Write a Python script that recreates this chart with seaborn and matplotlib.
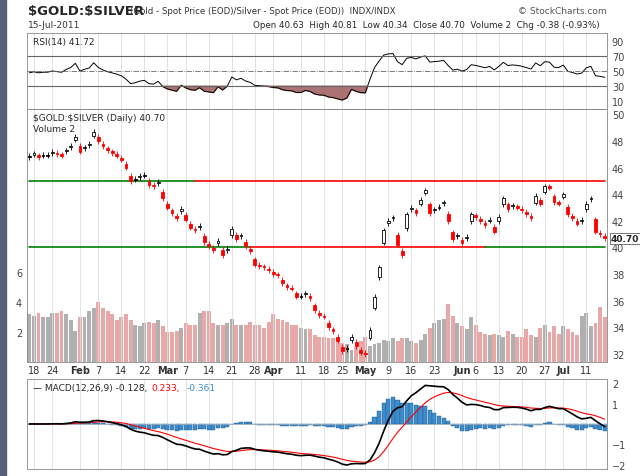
import numpy as np
import pandas as pd
import matplotlib
matplotlib.use("Agg")
import matplotlib.pyplot as plt
import seaborn as sns

sns.set_style("white")
plt.rcParams['font.family'] = ['DejaVu Sans']

closes = [46.8, 47.0, 46.8, 46.9, 46.9, 47.1, 47.0, 46.9, 47.3, 47.6, 48.3, 47.2, 47.5, 47.7, 48.7, 48.0,
          47.6, 47.3, 47.1, 46.9,
          46.6, 46.0, 45.0, 45.1, 45.3, 45.4, 44.7, 44.6, 44.9, 43.7, 43.0, 42.6, 42.2, 42.9,
          42.1, 41.5, 41.3, 41.6, 40.4, 40.1, 39.8, 40.5, 39.4, 39.9, 41.4, 40.6, 40.9, 40.1,
          39.7, 38.7, 38.6, 38.5, 38.3, 38.0, 37.9, 37.3, 37.0, 36.9, 36.3, 36.3, 36.5, 36.2,
          35.3, 34.9, 34.8, 34.0, 33.7, 33.0, 32.2, 32.4, 33.3, 32.6, 32.1, 32.0, 33.8, 36.3,
          38.5, 41.3, 42.0, 42.2, 40.2, 39.4, 42.5, 43.0, 42.6, 43.6, 44.3, 42.6, 42.8, 43.0,
          43.4, 42.0, 40.6, 40.9, 40.3, 40.8, 42.5, 42.3, 42.0, 41.7, 42.1, 41.2, 42.3, 43.7,
          42.9, 43.1, 43.0, 42.8, 42.5, 42.2, 43.9, 43.3, 44.6, 44.5, 43.4, 43.3, 44.0, 42.5,
          42.2, 41.8, 42.0, 43.3, 43.7, 41.2, 41.0, 40.7]
volume = [3.2, 3.1, 3.3, 3.0, 3.0, 3.3, 3.3, 3.4, 3.2, 2.8, 2.1, 3.0, 3.0, 3.4, 3.6, 4.0, 3.6, 3.4, 3.2,
          2.8, 3.0, 3.2,
          2.8, 2.5, 2.4, 2.6, 2.7, 2.6, 2.8, 2.4, 2.0, 2.0, 2.1, 2.3, 2.6, 2.5, 2.5, 3.3,
          3.4, 3.4, 2.6, 2.5, 2.5, 2.6, 2.9, 2.5, 2.5, 2.5, 2.7, 2.5, 2.5, 2.3, 2.7, 3.2,
          2.9, 2.8, 2.7, 2.5, 2.5, 2.3, 2.2, 2.2, 1.8, 1.7, 1.7, 1.6, 1.6, 1.4, 1.3, 1.2,
          0.8, 1.0, 1.4, 1.7, 1.1, 1.2, 1.3, 1.5, 1.4, 1.6, 1.4, 1.6, 1.6, 1.4, 1.3, 1.5,
          1.9, 2.3, 2.6, 2.8, 2.9, 3.9, 3.1, 2.6, 2.4, 2.2, 3.0, 2.5, 2.0, 1.9, 1.8, 1.9,
          1.8, 1.7, 2.1, 1.9, 1.7, 1.7, 2.2, 1.8, 1.7, 2.3, 2.5, 2.0, 2.4, 1.9, 2.4, 2.2,
          2.0, 1.8, 3.1, 3.3, 2.4, 2.6, 3.7, 3.0, 3.2, 2.4, 2.6, 2.5, 2.6]
holidays = ["2011-01-17", "2011-02-21", "2011-04-22", "2011-05-30", "2011-07-04"]
tick_dates = ["2011-01-18", "2011-01-24", "2011-02-01", "2011-02-07", "2011-02-14", "2011-02-22",
              "2011-03-01", "2011-03-07", "2011-03-14", "2011-03-21", "2011-03-28", "2011-04-01",
              "2011-04-11", "2011-04-18", "2011-04-25", "2011-05-02", "2011-05-09", "2011-05-16",
              "2011-05-23", "2011-06-01", "2011-06-06", "2011-06-13", "2011-06-20", "2011-06-27",
              "2011-07-01", "2011-07-11"]
tick_labels = ["18", "24", "Feb", "7", "14", "22", "Mar", "7", "14", "21", "28", "Apr", "11", "18",
               "25", "May", "9", "16", "23", "Jun", "6", "13", "20", "27", "Jul", "11"]

n = len(closes)
volume = (volume + [2.5] * n)[:n]
cbd = pd.offsets.CustomBusinessDay(holidays=holidays)
dates = pd.date_range(start="2010-12-01", end="2011-07-15", freq=cbd)[-n:]
df = pd.DataFrame({"close": closes, "volume": volume}, index=dates)
df["prev"] = df["close"].shift(1).fillna(df["close"].iloc[0] - 0.1)
df["open"] = df["close"] - 0.35 * (df["close"] - df["prev"]) + 0.05
x = np.arange(n)
tick_pos = [dates.searchsorted(pd.Timestamp(d)) for d in tick_dates]

# RSI(14), Wilder smoothing seeded with balanced averages
delta = df["close"].diff().fillna(0).values
au, ad = 0.3, 0.33
rsi = []
for d in delta:
    au = (au * 13 + max(d, 0)) / 14
    ad = (ad * 13 + max(-d, 0)) / 14
    rsi.append(100 - 100 / (1 + au / ad))
rsi = np.array(rsi)
# MACD
macd = df["close"].ewm(span=12).mean() - df["close"].ewm(span=26).mean()
signal = macd.ewm(span=9).mean()
hist = macd - signal

W, H = 640, 477
fig = plt.figure(figsize=(6.4, 4.77), dpi=100)
fig.patch.set_facecolor("white")
def box(l, t, r, b):
    return [l / W, 1 - b / H, (r - l) / W, (b - t) / H]

def style(ax):
    ax.set_xlim(-0.5, n - 0.5)
    ax.yaxis.tick_right()
    ax.tick_params(labelsize=7, length=0, colors="#444")
    for xp in tick_pos:
        ax.axvline(xp, color="#dddddd", lw=0.6, zorder=0)
    for s in ax.spines.values():
        s.set_color("#888")
        s.set_linewidth(0.6)
    ax.set_xticks([])

fig.text(28 / W, 1 - 12 / H, r"\$GOLD:\$SILVER", fontsize=9.5, fontweight="bold", va="center")
fig.text(130 / W, 1 - 12 / H, "(Gold - Spot Price (EOD)/Silver - Spot Price (EOD))  INDX/INDX",
         fontsize=6.2, va="center", color="#333")
fig.text(607 / W, 1 - 12 / H, "© StockCharts.com", fontsize=6.5, ha="right", va="center", color="#555")
fig.text(28 / W, 1 - 25 / H, "15-Jul-2011", fontsize=6.5, va="center", color="#333")
fig.text(600 / W, 1 - 25 / H, "Open 40.63  High 40.81  Low 40.34  Close 40.70  Volume 2  Chg -0.38 (-0.93%)",
         fontsize=6.3, ha="right", va="center")

# RSI panel
ax1 = fig.add_axes(box(27, 34, 607, 110))
style(ax1)
ax1.plot(x, rsi, color="black", lw=0.7)
ax1.fill_between(x, rsi, 30, where=rsi < 30, color="#9c5a5a", alpha=0.85, interpolate=True)
ax1.axhline(70, color="#666", lw=0.8)
ax1.axhline(30, color="#666", lw=0.8)
ax1.axhline(50, color="#666", lw=0.6, ls="-.")
ax1.set_ylim(0, 100)
ax1.set_yticks([10, 30, 50, 70, 90])
ax1.text(0.01, 0.95, "RSI(14) %.2f" % rsi[-1], transform=ax1.transAxes, fontsize=6.5, va="top")

# price panel
ax2 = fig.add_axes(box(27, 110, 607, 363))
style(ax2)
ax2.set_ylim(31.4, 50.4)
ax2.set_yticks(range(32, 51, 2))
axv = fig.add_axes(box(27, 110, 607, 363), sharex=ax2)
axv.set_ylim(0, 16.9)
axv.set_yticks([2, 4, 6])
axv.tick_params(labelsize=7, length=0, colors="#444")
axv.tick_params(axis="x", labelbottom=False)
for s in axv.spines.values():
    s.set_visible(False)
vcol = np.where(df["close"] < df["prev"], "#e8a8a8", "#b0b0b0")
axv.bar(x, df["volume"], width=0.85, color=vcol, edgecolor="none")
axv.set_zorder(ax2.get_zorder() - 1)
ax2.patch.set_visible(False)
ax2.plot([0, 36], [45, 45], color="green", lw=1.2)
ax2.plot([36, n - 1], [45, 45], color="red", lw=1.2)
ax2.plot([0, 48], [40, 40], color="green", lw=1.2)
ax2.plot([48, 99], [40, 40], color="red", lw=1.2)
ax2.plot([99, n - 1], [40, 40], color="green", lw=1.2)
ccol = np.where(df["close"] < df["prev"], "red", "black")
body_lo = np.minimum(df["open"], df["close"])
body_h = np.abs(df["close"] - df["open"]).clip(lower=0.08)
ax2.vlines(x, body_lo - 0.2, body_lo + body_h + 0.2, colors=ccol, lw=0.6, zorder=3)
filled = df["close"] < df["open"]
ax2.bar(x, body_h, bottom=body_lo, width=0.6, color=np.where(filled, ccol, "white"),
        edgecolor=ccol, linewidth=0.6, zorder=4)
ax2.text(0.01, 0.985, r"\$GOLD:\$SILVER (Daily) 40.70", transform=ax2.transAxes, fontsize=6.5, va="top")
ax2.text(0.01, 0.94, "Volume 2", transform=ax2.transAxes, fontsize=6.5, va="top")
ax2.text(n + 0.3, df["close"].iloc[-1], "40.70", fontsize=6.5, fontweight="bold", va="center",
         bbox=dict(boxstyle="square,pad=0.1", fc="white", ec="#444", lw=0.5))

# date labels
for xp, lab in zip(tick_pos, tick_labels):
    bold = not lab.isdigit()
    fig.text((27 + (xp + 0.5) / n * 580) / W, 1 - 371 / H, lab, fontsize=7,
             fontweight="bold" if bold else "normal", ha="center", va="center", color="#333")

# MACD panel
ax3 = fig.add_axes(box(27, 380, 607, 470))
style(ax3)
ax3.bar(x, hist, width=0.9, color="#3d8ccc", edgecolor="#22608f", linewidth=0.3)
ax3.axhline(0, color="#9ab", lw=0.6)
ax3.plot(x, signal, color="red", lw=0.8)
ax3.plot(x, macd, color="black", lw=1.2)
ax3.set_ylim(-2.2, 2.2)
ax3.set_yticks([-2, -1, 1, 2])
ax3.text(0.01, 0.95, "— MACD(12,26,9) %.3f," % macd.iloc[-1], transform=ax3.transAxes, fontsize=6.5, va="top")
ax3.text(0.215, 0.95, "%.3f," % signal.iloc[-1], transform=ax3.transAxes, fontsize=6.5, va="top", color="red")
ax3.text(0.275, 0.95, "%.3f" % hist.iloc[-1], transform=ax3.transAxes, fontsize=6.5, va="top", color="#3d8ccc")

fig.add_artist(plt.Rectangle((0, 0), 6 / W, 1, transform=fig.transFigure, color="#55607a"))
fig.savefig("out.png", dpi=100)
